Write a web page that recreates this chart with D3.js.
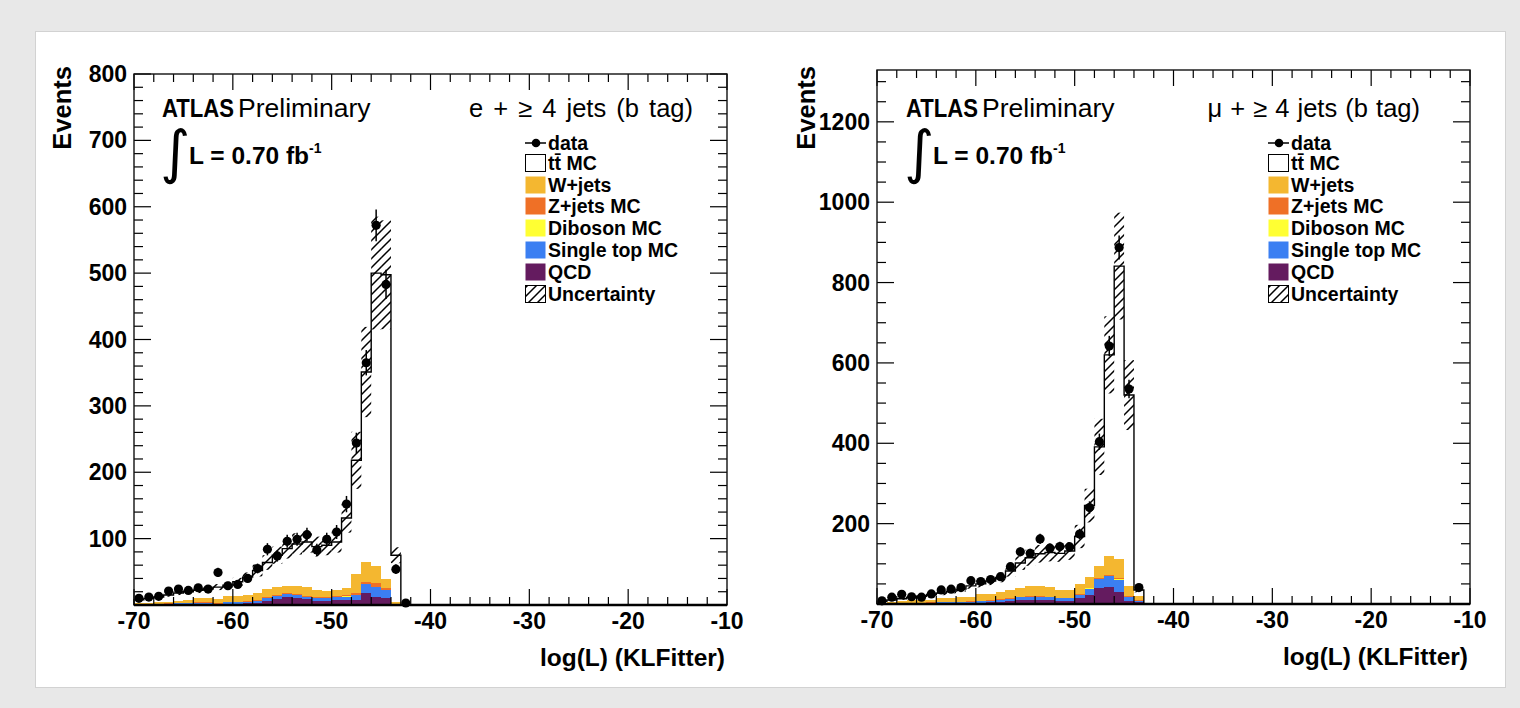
<!DOCTYPE html>
<html><head><meta charset="utf-8">
<script src="https://cdn.jsdelivr.net/npm/d3@7"></script>
<style>
html,body{margin:0;padding:0;background:#e8e8e8;}
svg{display:block;}
text{font-family:"Liberation Sans",Arial,Helvetica,sans-serif;fill:#000;}
</style></head><body>
<svg id="c" width="1520" height="708"></svg>
<script>
// ---------------- DATA ----------------
const seriesNames = ["data","tt\u0304 MC","W+jets","Z+jets MC","Diboson MC","Single top MC","QCD","Uncertainty"];
const xTickLabels = [-70,-60,-50,-40,-30,-20,-10];
const yTickLabelsL = [100,200,300,400,500,600,700,800];
const yTickLabelsR = [200,400,600,800,1000,1200];

// left panel: e + >=4 jets (bins of width 1, lower edges)
const binLowL = [-70,-69,-68,-67,-66,-65,-64,-63,-62,-61,-60,-59,-58,-57,-56,-55,-54,-53,-52,-51,-50,-49,-48,-47,-46,-45,-44,-43];
const dataL = [10,12,13,21,24,22,26,24,49,29,31,40,55,84,74,96,99,106,83,99,110,152,244,365,572,483,54,3];
const errL  = [3.2,3.5,3.6,4.6,4.9,4.7,5.1,4.9,7,5.4,5.6,6.3,7.4,9.2,8.6,9.8,9.9,10.3,9.1,9.9,10.5,12.3,15.6,19.1,23.9,22,7.3,1.7];
const qcdL  = [0.5,0.5,0.5,0.8,1,1,1.5,1.5,1,2,2,2.5,3,6.5,9.5,11.5,10,8.5,6.5,6.5,7.5,7.5,7.5,17.5,12.5,10,0.5,0];
const stopL = [0.5,0.5,1,1,1.5,1.5,1.5,1.5,1,2,2,2,2.5,3.5,4,5,5,4,3.5,3.5,4,5,7.5,13.5,14.5,12,1,0];
const dibL  = [0.1,0.1,0.1,0.1,0.1,0.1,0.2,0.2,0.2,0.2,0.2,0.3,0.3,0.3,0.3,0.4,0.4,0.3,0.3,0.3,0.3,0.4,0.4,0.5,0.5,0.4,0.1,0];
const zjL   = [0.3,0.3,0.4,0.4,0.5,0.5,0.6,0.6,0.6,0.8,0.8,1,1,1.3,1.5,1.5,1.5,1.3,1.2,1.2,1.3,1.5,2,3.5,5,2.5,0.3,0];
const wjL   = [1.6,2.1,2,2.2,2.9,3.9,6.2,7.2,6.2,8,8.5,9.2,11.7,11.9,11.2,10.1,11.6,12.4,11,10,9.4,10.6,29.1,30,26,13.6,3.1,0];
const ttL   = [5,6.5,8,10.5,12,13,12,13,18,17,21.5,27,33.5,40.5,48.5,56.5,63.5,68.5,65.5,68.5,72.5,106,171.5,286,441.5,459,70,0];
const uncL  = [1.5,1.8,2,2.5,3,3.5,4,4,4.5,5,6,7,9,11,13,15,16,16,15,15,16,22,43,68,85,82,12,0];

// right panel: mu + >=4 jets
const binLowR = [-70,-69,-68,-67,-66,-65,-64,-63,-62,-61,-60,-59,-58,-57,-56,-55,-54,-53,-52,-51,-50,-49,-48,-47,-46,-45,-44];
const dataR = [8,17,24,18,17,25,35,37,41,58,56,61,68,93,130,126,162,139,143,142,174,240,404,642,887,535,41];
const errR  = [2.8,4.1,4.9,4.2,4.1,5,5.9,6.1,6.4,7.6,7.5,7.8,8.2,9.6,11.4,11.2,12.7,11.8,12,11.9,13.2,15.5,20.1,25.3,29.8,23.1,6.4];
const qcdR  = [0.5,0.5,0.8,1,1,1.2,1.5,2,2,2.5,3,4,6,8,10,11,11,10,8,8,14,22,41,42,31,8,4];
const stopR = [1.2,1.3,1.5,1.8,1.8,2,2.3,2.5,2.8,3,3.5,4,4.5,5,6.5,7,7,6.5,6,6,8,16.5,20.5,27.5,29.5,9.5,4];
const dibR  = [0.1,0.1,0.1,0.1,0.2,0.2,0.2,0.2,0.2,0.3,0.3,0.3,0.3,0.3,0.4,0.4,0.4,0.4,0.3,0.3,0.4,0.5,0.6,0.6,0.6,0.3,0.1];
const zjR   = [0.2,0.3,0.4,0.4,0.5,0.5,0.6,0.7,0.7,0.8,0.9,1,1,1.2,1.3,1.4,1.4,1.3,1.2,1.2,1.5,2,2.5,3,3.5,1.5,0.8];
const wjR   = [1,1.8,5.2,5.7,5.5,6.1,11.4,10.6,11.3,11.4,16.3,14.7,19.2,20.5,21.8,25.2,25.2,23.8,19.5,19.5,25.1,27,29.4,45.9,46.4,25.7,11.1];
const ttR   = [4,6,5,7,10,13,11,16,20,27,26,33,35,47,62,70,80,86,91,97,119,177,297,501,730,475,15];
const uncR  = [1.5,2,2.5,3,3.5,4,5,5.5,6,7,8.5,10,12,14,17,20,22,22,21,22,29,42,70,96,133,87,6];

// ---------------- STYLE ----------------
const colors = {qcd:"#641b5f", stop:"#3b7ff2", dib:"#ffff33", zj:"#ef7026", wj:"#f4b730", tt:"#ffffff"};
const binWidth = 1;

const svg = d3.select("#c");
svg.append("rect").attr("width",1520).attr("height",708).attr("fill","#e8e8e8");
svg.append("rect").attr("x",35.5).attr("y",31.5).attr("width",1470).attr("height",656)
   .attr("fill","#fff").attr("stroke","#d2d2d2");

const defs = svg.append("defs");
const pat = defs.append("pattern").attr("id","hatch").attr("patternUnits","userSpaceOnUse")
  .attr("width",9).attr("height",9);
pat.append("path").attr("d","M-2,2 L2,-2 M0,9 L9,0 M7,11 L11,7")
  .attr("stroke","#000").attr("stroke-width",1.5);

function panel(cfg){
  const g = svg.append("g");
  const x = d3.scaleLinear().domain([-70,-10]).range([cfg.left,cfg.right]);
  const y = d3.scaleLinear().domain([0,cfg.ymax]).range([cfg.bottom,cfg.top]);
  const keys = ["qcd","stop","dib","zj","wj","tt"];
  const rows = cfg.bins.map((b,i)=>({lo:b, qcd:cfg.qcd[i], stop:cfg.stop[i], dib:cfg.dib[i], zj:cfg.zj[i], wj:cfg.wj[i], tt:cfg.tt[i]}));
  const stack = d3.stack().keys(keys)(rows);
  const plot = g.append("g");
  stack.forEach(layer=>{
    plot.append("g").attr("fill",colors[layer.key]).selectAll("rect").data(layer).join("rect")
      .attr("x",d=>x(d.data.lo)).attr("width",d=>x(d.data.lo+binWidth)-x(d.data.lo))
      .attr("y",d=>y(d[1])).attr("height",d=>Math.max(0,y(d[0])-y(d[1])))
      .attr("shape-rendering","crispEdges");
  });
  // MC total outline
  const tot = stack[stack.length-1].map(d=>d[1]);
  const pts = [[cfg.bins[0], 0]];
  cfg.bins.forEach((b,i)=>{ pts.push([b, tot[i]]); pts.push([b+binWidth, tot[i]]); });
  pts.push([cfg.bins[cfg.bins.length-1]+binWidth, 0]);
  plot.append("path").attr("d", d3.line().x(d=>x(d[0])).y(d=>y(d[1]))(pts))
    .attr("fill","none").attr("stroke","#000").attr("stroke-width",1.4);
  // uncertainty hatch
  plot.append("g").selectAll("rect").data(rows.map((r,i)=>({lo:r.lo, hi:tot[i]+cfg.unc[i], lo2:tot[i]-cfg.unc[i]})).filter(d=>d.hi>0))
    .join("rect").attr("x",d=>x(d.lo)).attr("width",d=>x(d.lo+binWidth)-x(d.lo))
    .attr("y",d=>y(d.hi)).attr("height",d=>y(d.lo2)-y(d.hi)).attr("fill","url(#hatch)");
  // data
  const dd = cfg.bins.map((b,i)=>({c:b+binWidth/2, v:cfg.data[i], e:cfg.err[i]}));
  plot.append("g").selectAll("line").data(dd).join("line")
    .attr("x1",d=>x(d.c)).attr("x2",d=>x(d.c)).attr("y1",d=>y(d.v-d.e)).attr("y2",d=>y(Math.min(cfg.ymax,d.v+d.e)))
    .attr("stroke","#000").attr("stroke-width",1.5);
  plot.append("g").selectAll("circle").data(dd).join("circle")
    .attr("cx",d=>x(d.c)).attr("cy",d=>y(d.v)).attr("r",4.6).attr("fill","#000");

  // axes ticks (inward, mirrored)
  const ax = g.append("g").attr("stroke","#000").attr("stroke-width",1.2);
  const xMinor = x.ticks(30).filter(v=>!xTickLabels.includes(v));
  const yMinor = y.ticks(cfg.yMinorCount).filter(v=>!cfg.yLabels.includes(v) && v>0);
  function xt(vals,len){
    vals.forEach(v=>{
      ax.append("line").attr("x1",x(v)).attr("x2",x(v)).attr("y1",cfg.bottom).attr("y2",cfg.bottom-len);
      ax.append("line").attr("x1",x(v)).attr("x2",x(v)).attr("y1",cfg.top).attr("y2",cfg.top+len);
    });
  }
  function yt(vals,len){
    vals.forEach(v=>{
      ax.append("line").attr("y1",y(v)).attr("y2",y(v)).attr("x1",cfg.left).attr("x2",cfg.left+len);
      ax.append("line").attr("y1",y(v)).attr("y2",y(v)).attr("x1",cfg.right).attr("x2",cfg.right-len);
    });
  }
  xt(xTickLabels,16); xt(xMinor,8);
  yt(cfg.yLabels,17); yt(yMinor,9);
  g.append("rect").attr("x",cfg.left).attr("y",cfg.top).attr("width",cfg.right-cfg.left).attr("height",cfg.bottom-cfg.top)
    .attr("fill","none").attr("stroke","#111").attr("stroke-width",1.4);
  g.append("line").attr("x1",cfg.left).attr("x2",cfg.right).attr("y1",cfg.bottom).attr("y2",cfg.bottom)
    .attr("stroke","#000").attr("stroke-width",2.6);

  // tick labels
  g.append("g").selectAll("text").data(xTickLabels).join("text")
    .attr("x",d=>x(d)).attr("y",cfg.bottom+24).attr("text-anchor","middle")
    .attr("font-size",23).attr("font-weight","bold").text(d=>d);
  g.append("g").selectAll("text").data(cfg.yLabels).join("text")
    .attr("x",cfg.left-7).attr("y",d=>y(d)+8).attr("text-anchor","end")
    .attr("font-size",23).attr("font-weight","bold").text(d=>d);
  // axis titles
  g.append("text").attr("x",cfg.right-2).attr("y",cfg.bottom+61).attr("text-anchor","end")
    .attr("font-size",24.5).attr("font-weight","bold").text("log(L) (KLFitter)");
  g.append("text").attr("transform",`translate(${cfg.evX},${cfg.evY}) rotate(-90)`).attr("text-anchor","end")
    .attr("font-size",25.5).attr("font-weight","bold").text("Events");

  // ATLAS label
  const at = g.append("text").attr("x",cfg.atlasX).attr("y",117);
  at.append("tspan").attr("font-weight","bold").attr("font-size",25).attr("textLength",72)
    .attr("lengthAdjust","spacingAndGlyphs").text("ATLAS");
  at.append("tspan").attr("dx",4).attr("font-size",26.5).text("Preliminary");
  g.append("text").attr("x",cfg.chanX).attr("y",117).attr("text-anchor","end").attr("font-size",25.5)
    .attr("word-spacing",cfg.chanSpace).text(cfg.chan);
  g.append("text").attr("x",cfg.atlasX-2).attr("y",172).attr("font-size",58)
    .style("font-family","'DejaVu Sans'").attr("font-weight","normal").text("\u222B");
  const lum = g.append("text").attr("x",cfg.atlasX+27).attr("y",164).attr("font-size",24.5).attr("font-weight","bold");
  lum.append("tspan").text("L = 0.70 fb");
  lum.append("tspan").attr("font-size",14).attr("dy",-11).text("-1");

  // legend
  const lg = g.append("g").attr("transform",`translate(${cfg.legX},0)`);
  const rowsY = [143,163,185,206,228,250,272,294];
  const legFill = [null,"#fff",colors.wj,colors.zj,colors.dib,colors.stop,colors.qcd,"url(#hatch)"];
  seriesNames.forEach((name,i)=>{
    const cy = rowsY[i];
    if(i===0){
      lg.append("line").attr("x1",0).attr("x2",21).attr("y1",cy).attr("y2",cy).attr("stroke","#000").attr("stroke-width",1.5);
      lg.append("circle").attr("cx",11).attr("cy",cy).attr("r",4.3).attr("fill","#000");
    } else {
      lg.append("rect").attr("x",0.5).attr("y",cy-8.5).attr("width",20).attr("height",17).attr("fill",legFill[i])
        .attr("stroke",(i===1||i===7)?"#000":"none").attr("stroke-width",1);
    }
    lg.append("text").attr("x",23).attr("y",cy+7).attr("font-size",19.5).attr("font-weight","bold").text(name);
  });
}

panel({left:134,right:727,top:74,bottom:605,ymax:800,yLabels:yTickLabelsL,yMinorCount:40,
  bins:binLowL,data:dataL,err:errL,qcd:qcdL,stop:stopL,dib:dibL,zj:zjL,wj:wjL,tt:ttL,unc:uncL,
  evX:71,evY:66,atlasX:162,chanX:693,chan:"e + \u2265 4 jets (b tag)",chanSpace:3,legX:525});
panel({left:877,right:1470,top:70,bottom:604,ymax:1329,yLabels:yTickLabelsR,yMinorCount:30,
  bins:binLowR,data:dataR,err:errR,qcd:qcdR,stop:stopR,dib:dibR,zj:zjR,wj:wjR,tt:ttR,unc:uncR,
  evX:815,evY:66,atlasX:906,chanX:1420,chan:"\u03BC + \u2265 4 jets (b tag)",chanSpace:1,legX:1268});
</script>
</body></html>
